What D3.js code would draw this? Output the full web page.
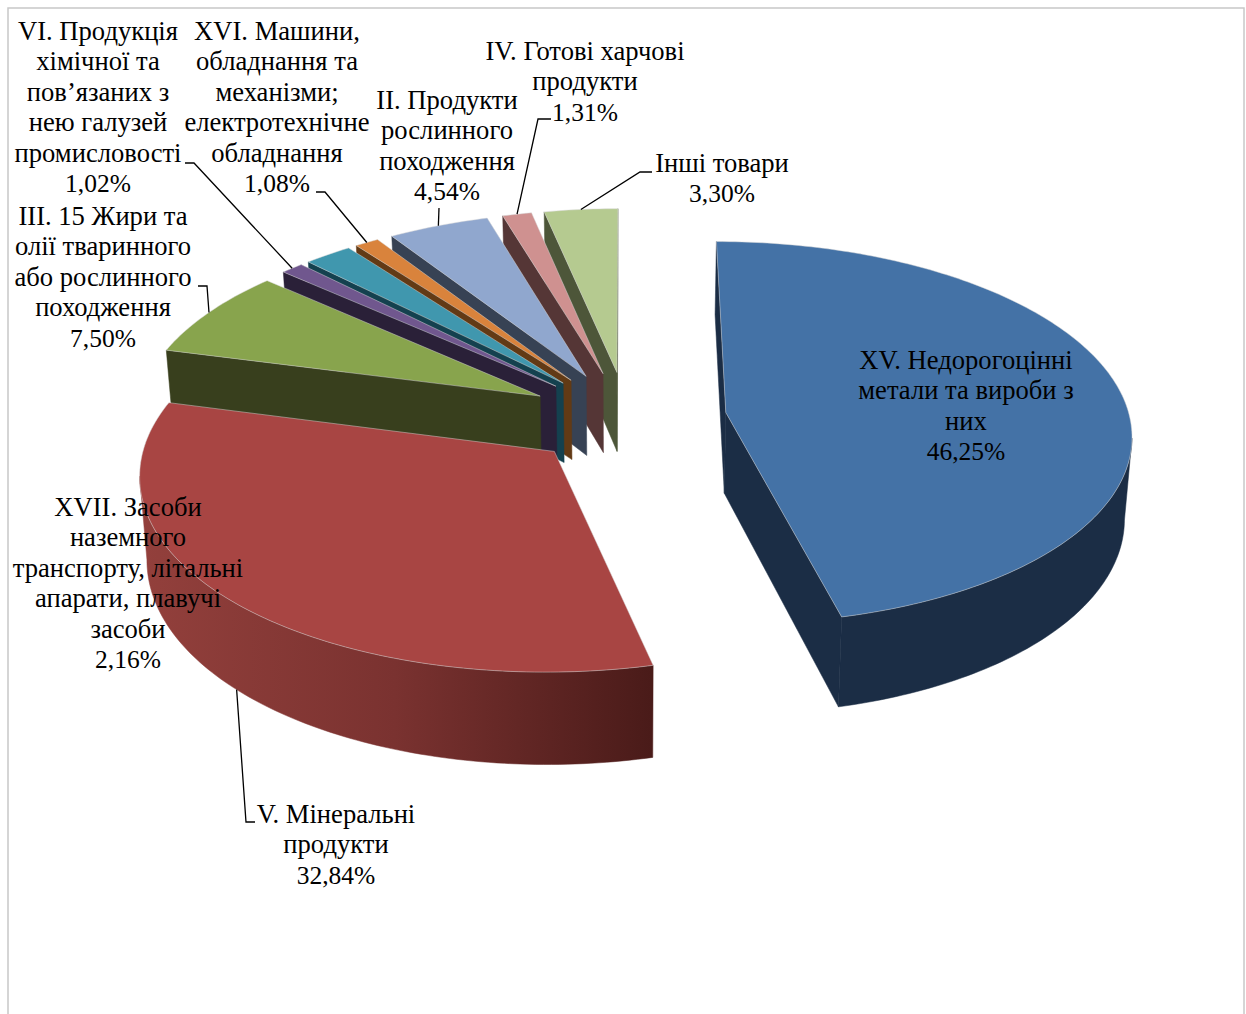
<!DOCTYPE html>
<html>
<head>
<meta charset="utf-8">
<script src="https://cdn.jsdelivr.net/npm/d3@7"></script>
<style>
body { margin: 0; background: #fff; }
text { font-family: "Liberation Serif", serif; font-size: 26.6px; fill: #000; }
.pct { font-size: 25.5px; }
</style>
</head>
<body>
<svg></svg>
<script>
var categories = [
	['XV. Недорогоцінні', 'метали та вироби з', 'них'],
	['V. Мінеральні', 'продукти'],
	['III. 15 Жири та', 'олії тваринного', 'або рослинного', 'походження'],
	['VI. Продукція', 'хімічної та', 'пов’язаних з', 'нею галузей', 'промисловості'],
	['XVII. Засоби', 'наземного', 'транспорту, літальні', 'апарати, плавучі', 'засоби'],
	['XVI. Машини,', 'обладнання та', 'механізми;', 'електротехнічне', 'обладнання'],
	['II. Продукти', 'рослинного', 'походження'],
	['IV. Готові харчові', 'продукти'],
	['Інші товари']
];
var values = [46.25, 32.84, 7.50, 1.02, 2.16, 1.08, 4.54, 1.31, 3.30];
var topColors = ['#4472A6', '#A84543', '#88A44D', '#70578E', '#4097AE', '#D9833C', '#90A7CE', '#CF9190', '#B5CA90'];
var wallColors = ['#1B2D45', '#7A3230', '#383F1D', '#2A2038', '#14414F', '#623A15', '#374254', '#553636', '#4D5639'];

// label block: centre x, first baseline
var labelPos = [[966, 369], [336, 823], [103, 225], [98, 40], [128, 516], [277, 40], [447, 109], [585, 60], [722, 172]];
// leader: points on the label side, the slice end is computed
var leaderPos = [null, [[255, 822], [246, 822]], [[198, 286], [207, 286]], [[185, 163], [194, 163]], null,
	[[316, 192], [325, 192]], [[439, 208]], [[551, 119], [538, 119]], [[652, 172], [640, 172]]];

var width = 1246;
var height = 1014;
var svg = d3.select('svg').attr('width', width).attr('height', height);

svg.append('rect')
	.attr('x', 8).attr('y', 8)
	.attr('width', 1236).attr('height', 1030)
	.attr('fill', '#fff')
	.attr('stroke', '#c8c8c8')
	.attr('stroke-width', 1.5);

// ground plane seen in perspective, unit = pie radius
var cx = 627, cy = 418, scaleX = 404, scaleY = 190, persp = 0.105;
var explode = 0.247, depth = 81, squeeze = 0.985;

function project(X, Y, lower) {
	var w = 1 + persp * Y;
	var px = scaleX * X / w;
	var py = cy - scaleY * Y / w;
	if (lower) {
		px = px * squeeze;
		py = py + depth / w;
	}
	return [cx + px, py];
}

var pie = d3.pie().sort(null).value(function(d) { return d; });
var arcs = pie(values);

var defs = svg.append('defs');
var grad = defs.append('linearGradient')
	.attr('id', 'redWall')
	.attr('gradientUnits', 'userSpaceOnUse')
	.attr('x1', 139).attr('x2', 651).attr('y1', 0).attr('y2', 0);
grad.append('stop').attr('offset', '0').attr('stop-color', '#93403C');
grad.append('stop').attr('offset', '0.5').attr('stop-color', '#7A3230');
grad.append('stop').attr('offset', '1').attr('stop-color', '#4A1B19');

var line = d3.line();
var slices = [];
arcs.forEach(function(a, i) {
	var mid = (a.startAngle + a.endAngle) / 2;
	var ox = explode * Math.sin(mid), oy = explode * Math.cos(mid);
	var ring = [];
	var n = Math.max(4, Math.ceil((a.endAngle - a.startAngle) * 180 / Math.PI));
	for (var j = 0; j <= n; j++) {
		var t = a.startAngle + (a.endAngle - a.startAngle) * j / n;
		ring.push([ox + Math.sin(t), oy + Math.cos(t)]);
	}
	slices.push({ index: i, apex: [ox, oy], ring: ring, mid: mid, ox: ox, oy: oy });
});

// a wall is the stretch of the outline that runs leftwards on screen (clockwise outline)
function wallPath(ground) {
	var topPts = ground.map(function(p) { return project(p[0], p[1], false); });
	var lowPts = ground.map(function(p) { return project(p[0], p[1], true); });
	var parts = [];
	var cur = null;
	for (var i = 0; i < topPts.length - 1; i++) {
		if (topPts[i + 1][0] < topPts[i][0]) {
			if (!cur) { cur = [i, i + 1]; } else { cur[1] = i + 1; }
		} else if (cur) {
			parts.push(cur);
			cur = null;
		}
	}
	if (cur) parts.push(cur);
	return parts.map(function(r) {
		return topPts.slice(r[0], r[1] + 1).concat(lowPts.slice(r[0], r[1] + 1).reverse());
	});
}

// back slices first, the olive one sits over its neighbours, red over olive
var drawOrder = [8, 7, 6, 5, 4, 3, 2, 1, 0];
drawOrder.forEach(function(i) {
	var s = slices[i];
	var g = svg.append('g');
	var wallFill = i === 1 ? 'url(#redWall)' : wallColors[i];
	var sides = [[s.apex, s.ring[0]], s.ring, [s.ring[s.ring.length - 1], s.apex]];
	sides.forEach(function(side) {
		wallPath(side).forEach(function(poly) {
			g.append('path')
				.attr('d', line(poly) + 'Z')
				.attr('fill', wallFill)
				.attr('stroke', wallFill)
				.attr('stroke-width', 0.5);
		});
	});
	var outline = [s.apex].concat(s.ring).map(function(p) { return project(p[0], p[1], false); });
	g.append('path')
		.attr('d', line(outline) + 'Z')
		.attr('fill', topColors[i])
		.attr('stroke', '#d8d8d8')
		.attr('stroke-opacity', 0.6)
		.attr('stroke-width', 0.8);
});

// leaders
leaderPos.forEach(function(pts, i) {
	if (!pts) return;
	var s = slices[i];
	var X = s.ox + Math.sin(s.mid), Y = s.oy + Math.cos(s.mid);
	var end = project(X, Y, i === 1);
	svg.append('path')
		.attr('d', line(pts.concat([end])))
		.attr('fill', 'none')
		.attr('stroke', '#000')
		.attr('stroke-width', 1.3);
});

// labels
var pct = d3.format('.2f');
categories.forEach(function(lines, i) {
	var rows = lines.concat([pct(values[i]).replace('.', ',') + '%']);
	var label = svg.append('text')
		.attr('text-anchor', 'middle')
		.attr('x', labelPos[i][0])
		.attr('y', labelPos[i][1]);
	rows.forEach(function(row, r) {
		label.append('tspan')
			.attr('class', r === rows.length - 1 ? 'pct' : null)
			.attr('x', labelPos[i][0])
			.attr('y', labelPos[i][1] + r * 30.4)
			.text(row);
	});
});
</script>
</body>
</html>
